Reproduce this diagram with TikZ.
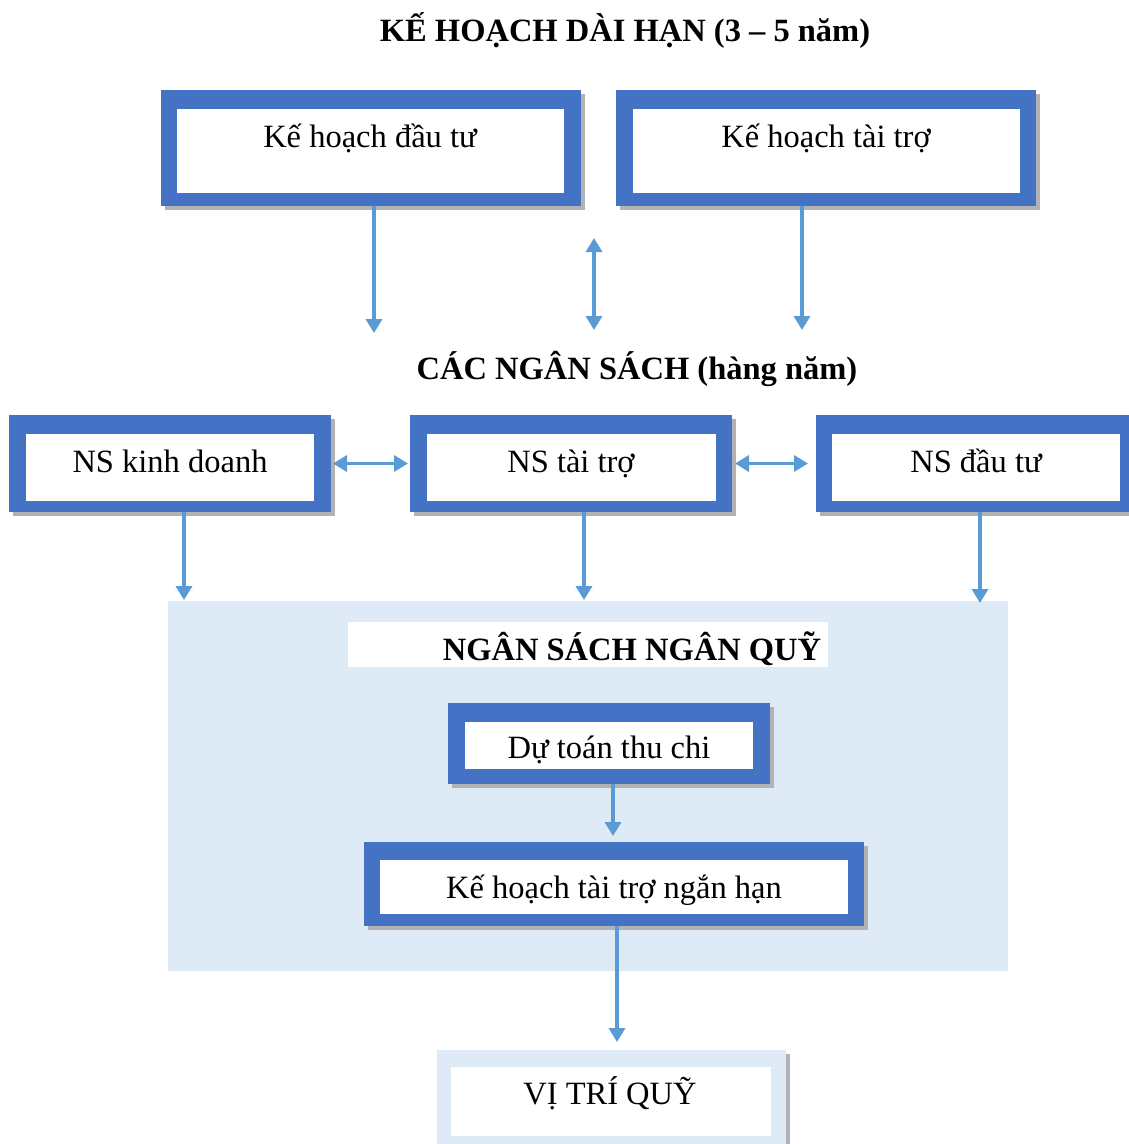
\documentclass[tikz,border=0pt]{standalone}
\usepackage{fontspec}
\setmainfont{Liberation Serif}
\usetikzlibrary{arrows.meta,shadows}
\definecolor{boxblue}{HTML}{4472C4}
\definecolor{arrowblue}{HTML}{5B9BD5}
\definecolor{panelblue}{HTML}{DEEAF6}
\begin{document}
\begin{tikzpicture}[x=1pt,y=-1pt,
  frame/.style={fill=boxblue, draw=none, inner sep=0pt, outer sep=0pt, anchor=north west,
    drop shadow={shadow xshift=4pt, shadow yshift=-4pt, fill=gray!60, opacity=1}},
  lightframe/.style={frame, fill=panelblue},
  pane/.style={fill=white, draw=none, inner sep=0pt, outer sep=0pt, anchor=north west},
  txt/.style={anchor=base, inner sep=0pt, font=\fontsize{32.5}{39}\selectfont},
  head/.style={anchor=base, inner sep=0pt, font=\fontsize{32.5}{39}\selectfont\bfseries},
  tip/.tip={Triangle[width=16pt,length=14pt]},
  arr/.style={draw=arrowblue, line width=3.5pt, -tip},
  darr/.style={draw=arrowblue, line width=3.5pt, tip-tip}]
\useasboundingbox (0,0) rectangle (1128,1144);

% long-term plan
\node[head] (title) at (625,41) {KẾ HOẠCH DÀI HẠN (3 – 5 năm)};
\node[frame, minimum width=420pt, minimum height=116pt] (b1) at (161,90) {};
\node[pane, minimum width=387pt, minimum height=84pt] (b1in) at (177,109) {};
\node[txt] (b1t) at (370,147) {Kế hoạch đầu tư};
\node[frame, minimum width=420pt, minimum height=116pt] (b2) at (616,90) {};
\node[pane, minimum width=387pt, minimum height=84pt] (b2in) at (633,109) {};
\node[txt] (b2t) at (826,147) {Kế hoạch tài trợ};

% annual budgets
\node[head] (mid) at (637,379) {CÁC NGÂN SÁCH (hàng năm)};
\node[frame, minimum width=322pt, minimum height=97pt] (n1) at (9,415) {};
\node[pane, minimum width=288pt, minimum height=67pt] (n1in) at (26,434) {};
\node[txt] (n1t) at (170,472) {NS kinh doanh};
\node[frame, minimum width=322pt, minimum height=97pt] (n2) at (410,415) {};
\node[pane, minimum width=289pt, minimum height=67pt] (n2in) at (427,434) {};
\node[txt] (n2t) at (571,472) {NS tài trợ};
\node[frame, minimum width=320pt, minimum height=97pt] (n3) at (816,415) {};
\node[pane, minimum width=288pt, minimum height=67pt] (n3in) at (832,434) {};
\node[txt] (n3t) at (976,472) {NS đầu tư};

% cash budget panel
\node[fill=panelblue, inner sep=0pt, outer sep=0pt, anchor=north west,
  minimum width=840pt, minimum height=370pt] (cash) at (168,601) {};
\node[pane, minimum width=480pt, minimum height=45pt] (cashlbl) at (348,622) {};
\node[head] (casht) at (632,660) {NGÂN SÁCH NGÂN QUỸ};
\node[frame, minimum width=322pt, minimum height=81pt] (d) at (448,703) {};
\node[pane, minimum width=288pt, minimum height=47pt] (din) at (465,722) {};
\node[txt] (dt) at (609,758) {Dự toán thu chi};
\node[frame, minimum width=500pt, minimum height=84pt] (k) at (364,842) {};
\node[pane, minimum width=468pt, minimum height=54pt] (kin) at (380,860) {};
\node[txt] (kt) at (614,898) {Kế hoạch tài trợ ngắn hạn};

% cash position
\node[lightframe, minimum width=349pt, minimum height=100pt] (v) at (437,1050) {};
\node[pane, minimum width=320pt, minimum height=69pt] (vin) at (451,1067) {};
\node[txt] (vt) at (610,1104) {VỊ TRÍ QUỸ};

% connectors
\coordinate (a1) at (374,333);
\coordinate (a2) at (802,330);
\coordinate (m1) at (594,238);
\coordinate (m2) at (594,330);
\draw[arr] (b1.south -| a1) -- (a1);
\draw[arr] (b2.south -| a2) -- (a2);
\draw[darr] (m1) -- (m2);

\draw[darr, shorten <=2pt, shorten >=2pt] (n1.east) -- (n2.west);
\draw[darr, shorten <=3pt, shorten >=8pt] (n2.east) -- (n3.west);

\coordinate (c1) at (184,600);
\coordinate (c2) at (584,600);
\coordinate (c3) at (980,603);
\draw[arr] (n1.south -| c1) -- (c1);
\draw[arr] (n2.south -| c2) -- (c2);
\draw[arr] (n3.south -| c3) -- (c3);

\coordinate (k1) at (613,836);
\coordinate (v1) at (617,1042);
\draw[arr] (d.south -| k1) -- (k1);
\draw[arr] (k.south -| v1) -- (v1);
\end{tikzpicture}
\end{document}
